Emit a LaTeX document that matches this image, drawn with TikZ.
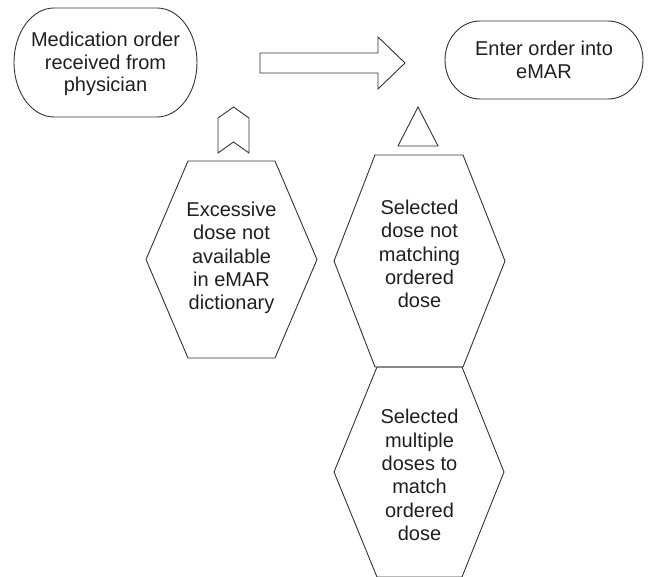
\documentclass[tikz,border=0pt]{standalone}
\usepackage{fontspec}
\setmainfont{Liberation Sans}
\begin{document}
\begin{tikzpicture}[x=1pt,y=1pt,
  shp/.style={draw=black!80,line width=0.9pt,line join=miter},
  lbl/.style={align=center,inner sep=0pt,text=black!88,font=\fontsize{20}{22.5}\selectfont},
  hlbl/.style={lbl,font=\fontsize{20}{23.3}\selectfont}]
\useasboundingbox (0,0) rectangle (649,-577);
% left stadium
\draw[shp] (54,-8) -- (157,-8) arc (90:-90:40 and 54.5) -- (54,-117) arc (270:90:40 and 54.5) -- cycle;
\node[lbl] (order) at (105.5,-64) {Medication order\\received from\\physician};
% right stadium
\draw[shp] (480,-21) -- (608,-21) arc (90:-90:35 and 39) -- (480,-99) arc (270:90:35 and 39) -- cycle;
\node[lbl] (enter) at (544,-60) {Enter order into\\eMAR};
% block arrow
\draw[shp] (260,-53) -- (378,-53) -- (378,-37) -- (405,-63) -- (378,-89) -- (378,-73) -- (260,-73) -- cycle;
% chevron
\draw[shp] (218,-153) -- (218,-118) -- (233.5,-107) -- (249,-118) -- (249,-153) -- (233.5,-142) -- cycle;
% triangle
\draw[shp] (418,-107) -- (438,-146) -- (398,-146) -- cycle;
% left hexagon
\draw[shp] (188,-161) -- (275,-161) -- (317,-259.5) -- (275,-358) -- (188,-358) -- (146,-259.5) -- cycle;
\node[hlbl] (excess) at (231.5,-258) {Excessive\\dose not\\available\\in eMAR\\dictionary};
% right hexagon 1
\draw[shp] (375,-155) -- (463,-155) -- (505,-261) -- (463,-367) -- (375,-367) -- (334,-261) -- cycle;
\node[hlbl] (selnot) at (419.5,-254) {Selected\\dose not\\matching\\ordered\\dose};
% right hexagon 2
\draw[shp] (377,-367) -- (462,-367) -- (504,-472) -- (462,-577) -- (377,-577) -- (334,-472) -- cycle;
\node[hlbl] (selmult) at (419.5,-475) {Selected\\multiple\\doses to\\match\\ordered\\dose};
\end{tikzpicture}
\end{document}
